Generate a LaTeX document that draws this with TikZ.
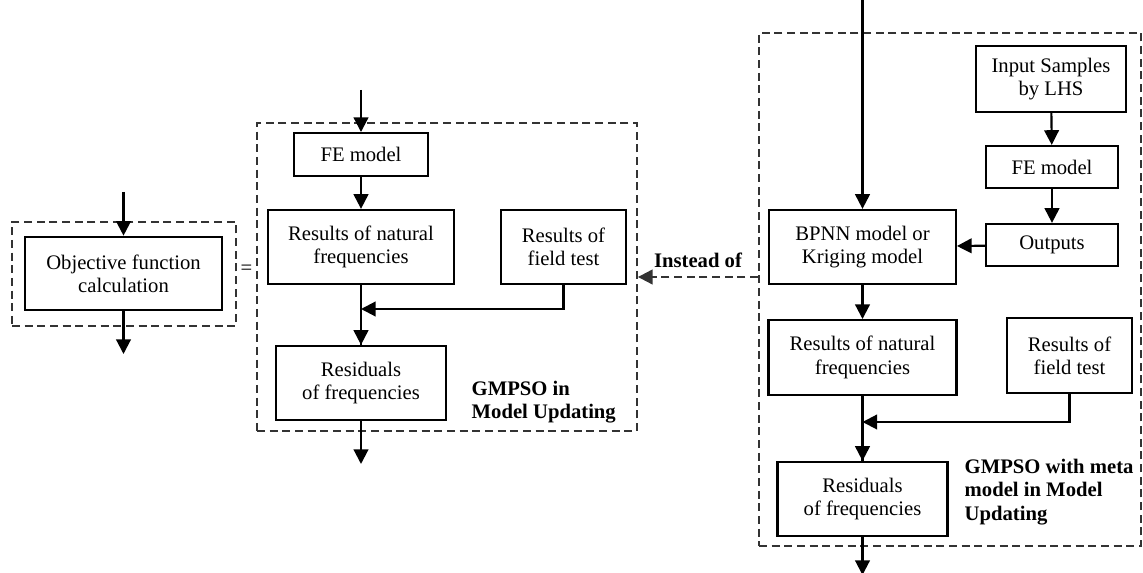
\documentclass[tikz,border=0pt]{standalone}
\usepackage{fontspec}
\setmainfont{Liberation Serif}
\usepackage{xcolor}
\usepackage{tikz}
\usetikzlibrary{positioning,arrows.meta}
\definecolor{framegray}{HTML}{333333}

\begin{document}
\begin{tikzpicture}[
  x=0.75pt, y=-0.75pt,
  font=\fontsize{15.5}{17.5}\selectfont,
  box/.style={draw, line width=1.7pt, align=center, inner sep=0pt},
  frame/.style={draw=framegray, line width=1.4pt, dash pattern=on 6pt off 3.5pt, inner sep=0pt},
  arr/.style={line width=1.6pt, -{Triangle[length=11pt,width=11pt]}},
  note/.style={font=\fontsize{15.5}{17.5}\selectfont\bfseries, align=left},
]
  \useasboundingbox (0,0) rectangle (1143,573);

  % Dashed frames
  \node[frame, minimum width=168pt, minimum height=78pt] (lframe) at (124,274) {};
  \node[frame, minimum width=285pt, minimum height=231pt] (mframe) at (447,277) {};
  \node[frame, minimum width=286.5pt, minimum height=385pt] (rframe) at (950,289.5) {};

  % Objective function
  \node[box, minimum width=148pt, minimum height=55pt] (obj) at (123.5,273.5) {Objective function\\calculation};
  \coordinate (objin) at (123.5,192);
  \coordinate (objout) at (123.5,354);
  \draw[arr] (objin) -- (obj.north);
  \draw[arr] (obj.south) -- (objout);

  \node (eq) at (246.5,270) {=};

  % GMPSO in model updating
  \node[box, minimum width=100pt, minimum height=32pt] (fe1) at (361,154.5) {FE model};
  \node[box, minimum width=140pt, minimum height=55.5pt] (nat1) at (361,247) {Results of natural\\frequencies};
  \node[box, minimum width=94pt, minimum height=55.5pt] (field1) at (563.5,247) {Results of\\field test};
  \node[box, minimum width=127pt, minimum height=55.5pt] (res1) at (361,383) {Residuals\\of frequencies};
  \node[note, anchor=west] (lab1) at (467,402) {GMPSO in\\Model Updating};

  \coordinate (in1) at (361,90);
  \coordinate (out1) at (361,464);
  \coordinate (j1) at (361,309);
  \draw[arr] (in1) -- (fe1.north);
  \draw[arr] (fe1) -- (nat1);
  \draw[line width=1.6pt] (nat1) -- (res1.north);
  \draw[arr] (j1) -- (res1);
  \draw[arr] (field1.south) |- (j1);
  \draw[arr] (res1.south) -- (out1);

  % GMPSO with meta model
  \node[box, minimum width=112.5pt, minimum height=49.5pt] (lhs) at (1051,79) {Input Samples\\by LHS};
  \node[box, minimum width=99pt, minimum height=31.5pt] (fe2) at (1052,167) {FE model};
  \node[box, minimum width=99pt, minimum height=31.5pt] (outp) at (1052,245) {Outputs};
  \node[box, minimum width=140pt, minimum height=55.5pt] (meta) at (862.5,247) {BPNN model or\\Kriging model};
  \node[box, minimum width=141pt, minimum height=56pt] (nat2) at (862.5,357.5) {Results of natural\\frequencies};
  \node[box, minimum width=94pt, minimum height=56pt] (field2) at (1069.5,355.5) {Results of\\field test};
  \node[box, minimum width=127.5pt, minimum height=55.5pt] (res2) at (862.5,499) {Residuals\\of frequencies};
  \node[note, anchor=west] (lab2) at (960,492) {GMPSO with meta\\model in Model\\Updating};

  \coordinate (in2) at (862.5,0);
  \coordinate (out2) at (862.5,575);
  \coordinate (j2) at (862.5,422);
  \draw[arr] (in2) -- (meta.north);
  \draw[arr] (lhs) -- (fe2);
  \draw[arr] (fe2) -- (outp);
  \draw[arr] (outp) -- (meta);
  \draw[arr] (meta) -- (nat2);
  \draw[line width=1.6pt] (nat2) -- (res2.north);
  \draw[arr] (j2) -- (res2);
  \draw[arr] (field2.south) |- (j2);
  \draw[arr] (res2.south) -- (out2);

  % Instead of
  \draw[arr, draw=framegray, dash pattern=on 6pt off 3.5pt] (rframe.west |- mframe.east) -- node[note, above=3pt] (inst) {Instead of} (mframe.east);

\end{tikzpicture}
\end{document}
